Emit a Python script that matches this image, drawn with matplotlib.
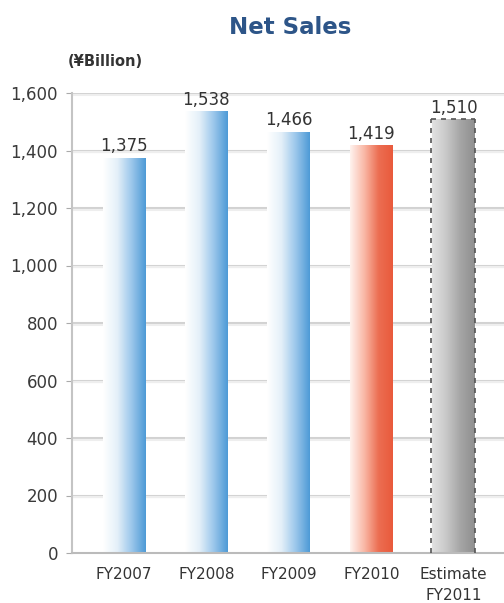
import numpy as np
import matplotlib
matplotlib.use("Agg")
import matplotlib.pyplot as plt
from matplotlib.colors import LinearSegmentedColormap

# data
years = ["FY2007", "FY2008", "FY2009", "FY2010", "Estimate\nFY2011"]
sales = [1375, 1538, 1466, 1419, 1510]
value_labels = ["1,375", "1,538", "1,466", "1,419", "1,510"]
yticks = [0, 200, 400, 600, 800, 1000, 1200, 1400, 1600]
ytick_labels = ["0", "200", "400", "600", "800", "1,000", "1,200", "1,400", "1,600"]

blue = LinearSegmentedColormap.from_list("b", ["#ffffff", "#e4f0f9", "#9cc7eb", "#4d9ad6"])
red = LinearSegmentedColormap.from_list("r", ["#fff3ef", "#f9b8a6", "#ec6e52", "#e95a3c"])
grey = LinearSegmentedColormap.from_list("g", ["#e2e2e2", "#c8c8c8", "#a5a5a5", "#8f8f8f"])
cmaps = [blue, blue, blue, red, grey]

fig = plt.figure(figsize=(5.04, 6.03), dpi=100)
ax = fig.add_axes([72 / 504, 50 / 603, 1 - 72 / 504, 460 / 603])

x = np.arange(len(years))
width = 0.52
ax.set_xlim(-0.63, 4.61)
ax.set_ylim(0, 1600)

# grid lines with a faint shadow
for t in yticks[1:]:
    ax.axhline(t, color="#d2d2d2", lw=2.2, zorder=1)
    ax.axhline(t - 6, color="#eeeeee", lw=1.5, zorder=1)

bars = ax.bar(x, sales, width, facecolor="none", edgecolor="none", zorder=3)
grad = np.linspace(0, 1, 256).reshape(1, -1)
for b, cm in zip(bars, cmaps):
    x0 = b.get_x()
    im = ax.imshow(grad, cmap=cm, aspect="auto", zorder=2,
                   extent=[x0, x0 + b.get_width(), 0, b.get_height()])
    im.set_clip_path(b)

# dashed outline for the estimate bar
b = bars[-1]
ax.plot([b.get_x() - 0.02, b.get_x() - 0.02], [0, b.get_height()],
        ls=(0, (3, 3)), color="#555555", lw=1.2, zorder=4)
ax.plot([b.get_x() + b.get_width(), b.get_x() + b.get_width()], [0, b.get_height()],
        ls=(0, (3, 3)), color="#555555", lw=1.2, zorder=4)
ax.plot([b.get_x() - 0.02, b.get_x() + b.get_width()], [b.get_height()] * 2,
        ls=(0, (3, 3)), color="#555555", lw=1.2, zorder=4)

for xi, v, s in zip(x, sales, value_labels):
    ax.text(xi, v + 8, s, ha="center", va="bottom", fontsize=12, color="#333333")

ax.set_yticks(yticks)
ax.set_yticklabels(ytick_labels, fontsize=12, color="#3a3a3a")
ax.set_xticks(x)
ax.set_xticklabels(years, fontsize=11, color="#333333", linespacing=1.5)
ax.tick_params(axis="y", length=4, color="#aaaaaa", pad=6)
ax.tick_params(axis="x", length=0, pad=10)

for sp in ["top", "right"]:
    ax.spines[sp].set_visible(False)
ax.spines["left"].set_color("#c4c4c4")
ax.spines["left"].set_linewidth(1.5)
ax.spines["bottom"].set_color("#bbbbbb")
ax.spines["bottom"].set_linewidth(1.5)

fig.text(290 / 504, 1 - 28 / 603, "Net Sales", ha="center", va="center",
         fontsize=16.5, color="#2d5588", fontweight="semibold")
fig.text(105 / 504, 1 - 62 / 603, "(¥Billion)", ha="center", va="center",
         fontsize=10.5, color="#333333", fontweight="bold")

fig.savefig("out.png", dpi=100)
